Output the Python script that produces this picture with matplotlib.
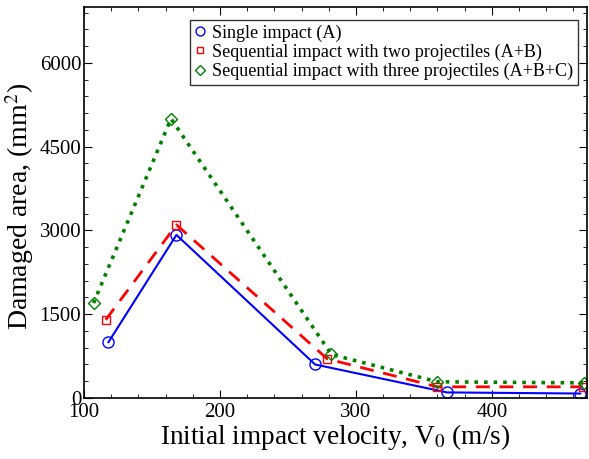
import matplotlib
matplotlib.use("Agg")
import matplotlib.pyplot as plt
from matplotlib.ticker import MultipleLocator

plt.rcParams['font.family'] = ['Liberation Serif', 'DejaVu Serif']
plt.rcParams['mathtext.fontset'] = 'stix'

x_a = [118, 168, 270, 367, 465]
y_a = [1000, 2920, 600, 100, 80]
x_ab = [116, 168, 279, 360, 467]
y_ab = [1400, 3100, 700, 200, 200]
x_abc = [107, 164, 282, 360, 468]
y_abc = [1700, 5000, 780, 290, 270]

labels = ["Single impact (A)",
          "Sequential impact with two projectiles (A+B)",
          "Sequential impact with three projectiles (A+B+C)"]

fig = plt.figure(figsize=(5.89, 4.59), dpi=100)
ax = fig.add_axes([84/589, 1-398/459, (587-84)/589, (398-7)/459])

ax.plot(x_a, y_a, '-', color='#0000ff', lw=1.5, marker='o', ms=8,
        mfc='none', mec='#0000ff', mew=1.0, label=labels[0])
ax.plot(x_ab, y_ab, '--', color='#ff0000', lw=2.0, dashes=(5, 3.5), marker='s', ms=6,
        mfc='none', mec='#ff0000', mew=1.0, label=labels[1])
ax.plot(x_abc, y_abc, ':', color='#008000', lw=2.6, marker='D', ms=6,
        mfc='none', mec='#008000', mew=1.0, label=labels[2])

ax.set_xlim(100, 470)
ax.set_ylim(0, 7000)
ax.xaxis.set_major_locator(MultipleLocator(100))
ax.xaxis.set_minor_locator(MultipleLocator(20))
ax.yaxis.set_major_locator(MultipleLocator(1500))
ax.yaxis.set_minor_locator(MultipleLocator(300))
ax.tick_params(which='both', direction='in', top=True, right=True, labelsize=15)
ax.tick_params(which='major', length=6)
ax.tick_params(which='minor', length=3)
ax.tick_params(axis='y', pad=2)
for s in ax.spines.values():
    s.set_linewidth(1.2)

ax.set_xlabel("Initial impact velocity, V$_0$ (m/s)", fontsize=19.6, labelpad=0)
ax.set_ylabel("Damaged area, (mm$^2$)", fontsize=20, labelpad=-3)
ax.yaxis.set_label_coords(-0.095, 0.49)

leg = ax.legend(loc='upper right', bbox_to_anchor=(0.982, 0.967), fontsize=13.1,
                frameon=True, fancybox=False, edgecolor='black',
                handlelength=0.6, handletextpad=0.4, borderpad=0.25,
                labelspacing=0.1, markerscale=0.8, borderaxespad=0)
leg.get_frame().set_linewidth(1.0)
for h in leg.get_lines():
    h.set_linestyle('none')

fig.savefig("out.png", dpi=100)
